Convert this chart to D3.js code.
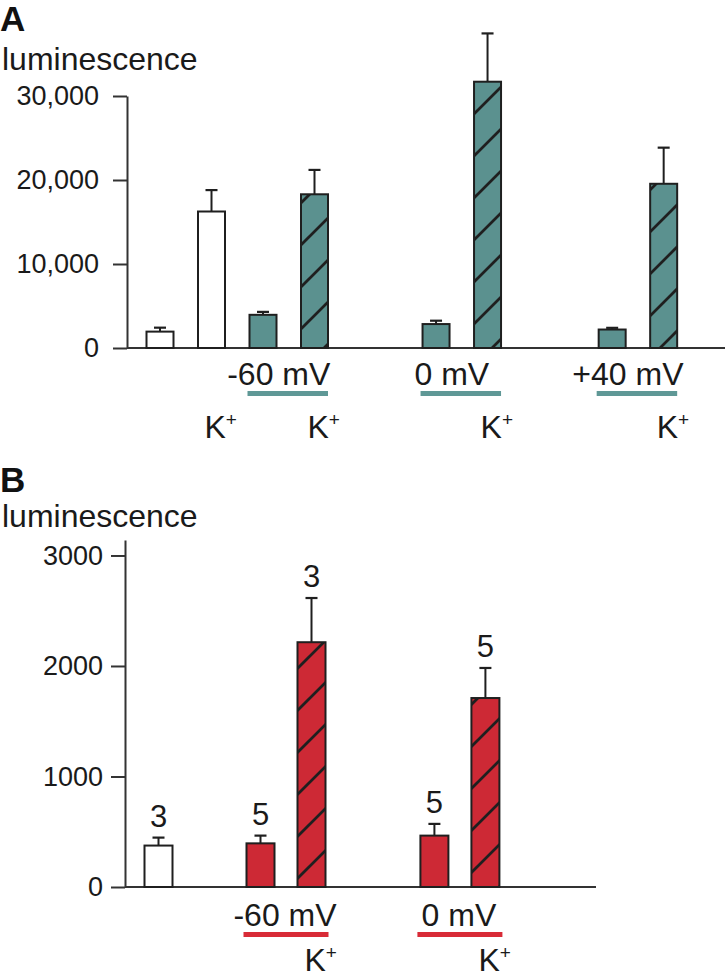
<!DOCTYPE html>
<html><head><meta charset="utf-8">
<script src="https://cdn.jsdelivr.net/npm/d3@7"></script>
<style>
html,body{margin:0;padding:0;background:#fff;}
svg{display:block;}
text{font-family:"Liberation Sans",Arial,Helvetica,sans-serif;fill:#1a1a1a;}
</style></head>
<body>
<svg id="chart" width="725" height="980"></svg>
<script>
// ---------- DATA ----------
// Panel A
const conditionsA = ["control","control","-60 mV","-60 mV","0 mV","0 mV","+40 mV","+40 mV"];
const kPlusA      = [false, true, false, true, false, true, false, true];
const meansA      = [1950, 16250, 3950, 18300, 2850, 31700, 2200, 19550];
const semA        = [470, 2550, 350, 2900, 400, 5750, 200, 4300];
const ticksA      = [0, 10000, 20000, 30000];
const groupsA     = ["-60 mV","0 mV","+40 mV"];
// Panel B
const conditionsB = ["control","-60 mV","-60 mV","0 mV","0 mV"];
const kPlusB      = [false, false, true, false, true];
const meansB      = [375, 395, 2215, 465, 1710];
const semB        = [72, 70, 400, 106, 272];
const nB          = [3, 5, 3, 5, 5];
const ticksB      = [0, 1000, 2000, 3000];
const groupsB     = ["-60 mV","0 mV"];
const yLabel = "luminescence";

// ---------- LAYOUT ----------
const slotsA = [0,1,2,3,5.36,6.36,8.78,9.78];
const slotsB = [0,2,3,5.41,6.41];
const teal = "#5b918f", tealLine = "#5f9896";
const red = "#cd2935", redLine = "#d82b37";
const ink = "#1f1f1f";
const font = '"Liberation Sans",Arial,Helvetica,sans-serif';

const svg = d3.select("#chart");
const defs = svg.append("defs");
const pat = defs.append("pattern").attr("id","hatch")
  .attr("patternUnits","userSpaceOnUse").attr("width",42).attr("height",42);
pat.append("path").attr("d","M-10.5,10.5L10.5,-10.5M0,42L42,0M31.5,52.5L52.5,31.5")
  .attr("stroke",ink).attr("stroke-width",2.8).attr("fill","none");

function panel(cfg){
  const g = svg.append("g");
  const x = d3.scaleLinear().domain([0,1]).range(cfg.xr);
  const y = d3.scaleLinear().domain(cfg.yd).range(cfg.yr);
  const bw = cfg.bw;

  g.append("text").attr("x",0).attr("y",cfg.letterY).attr("font-size",35)
    .attr("font-weight","bold").style("fill","#111").text(cfg.letter);
  g.append("text").attr("x",2).attr("y",cfg.labelY).attr("font-size",32).text(yLabel);

  const ax = g.append("g").attr("transform",`translate(${cfg.axisX},0)`)
    .call(d3.axisLeft(y).tickValues(cfg.ticks).tickSize(cfg.tickLen).tickSizeOuter(0)
      .tickPadding(cfg.tickPad).tickFormat(cfg.fmt));
  ax.selectAll("path,line").attr("stroke","#333").attr("stroke-width",2);
  ax.selectAll("text").attr("font-size",27).attr("font-family",font).style("fill","#1a1a1a");

  g.append("line").attr("x1",cfg.axisX).attr("x2",cfg.baseEnd)
    .attr("y1",y(0)).attr("y2",y(0)).attr("stroke","#333").attr("stroke-width",2);

  const data = cfg.means.map((m,i)=>({m, e:cfg.sem[i], c:cfg.cond[i], k:cfg.k[i], s:cfg.slots[i], n:cfg.n?cfg.n[i]:null}));

  data.forEach(d=>{
    const cx = x(d.s);
    g.append("line").attr("x1",cx).attr("x2",cx).attr("y1",y(d.m)).attr("y2",y(d.m+d.e))
      .attr("stroke",ink).attr("stroke-width",2);
    g.append("line").attr("x1",cx-6).attr("x2",cx+6).attr("y1",y(d.m+d.e)).attr("y2",y(d.m+d.e))
      .attr("stroke",ink).attr("stroke-width",2.2);
  });

  data.forEach(d=>{
    const cx = x(d.s);
    const isCtrl = d.c === "control";
    g.append("rect").attr("x",cx-bw/2).attr("width",bw)
      .attr("y",y(d.m)).attr("height",y(0)-y(d.m))
      .attr("fill", isCtrl ? "#fff" : cfg.color);
    if(!isCtrl && d.k){
      g.append("rect").attr("x",cx-bw/2).attr("width",bw)
        .attr("y",y(d.m)).attr("height",y(0)-y(d.m)).attr("fill","url(#hatch)");
    }
    g.append("rect").attr("x",cx-bw/2).attr("width",bw)
      .attr("y",y(d.m)).attr("height",y(0)-y(d.m))
      .attr("fill","none").attr("stroke",ink).attr("stroke-width",2);
    if(d.n!==null){
      g.append("text").attr("x",cx).attr("y",y(d.m+d.e)-11).attr("text-anchor","middle")
        .attr("font-size",31).text(d.n);
    }
    if(d.k){
      const t = g.append("text").attr("x",cx-7).attr("y",cfg.kY).attr("font-size",32);
      t.append("tspan").text("K");
      t.append("tspan").attr("font-size",19).attr("dy",-12).text("+");
    }
  });

  cfg.groups.forEach(gr=>{
    const idx = data.map((d,i)=>d.c===gr?i:-1).filter(i=>i>=0);
    const x0 = x(data[idx[0]].s)-bw/2 + cfg.ulPad[0];
    const x1 = x(data[idx[idx.length-1]].s)+bw/2 + cfg.ulPad[1];
    g.append("text").attr("x",(x0+x1)/2 + cfg.lblShift).attr("y",cfg.grpY)
      .attr("text-anchor","middle").attr("font-size",32).text(gr);
    g.append("rect").attr("x",x0).attr("width",x1-x0).attr("y",cfg.ulY).attr("height",5)
      .attr("fill",cfg.ulColor);
  });
}

panel({
  letter:"A", letterY:31, labelY:70,
  xr:[160,211.5], yd:[0,30000], yr:[348,96], bw:27,
  axisX:127, tickLen:14, tickPad:14, ticks:ticksA, fmt:d3.format(","),
  baseEnd:725, means:meansA, sem:semA, cond:conditionsA, k:kPlusA, slots:slotsA,
  color:teal, ulColor:tealLine, groups:groupsA, grpY:385, ulY:391, kY:438,
  ulPad:[-2,0], lblShift:-9
});
panel({
  letter:"B", letterY:492, labelY:527,
  xr:[158.5,209.5], yd:[0,3140], yr:[887,540], bw:28,
  axisX:125, tickLen:14, tickPad:8, ticks:ticksB, fmt:d3.format("d"),
  baseEnd:596, means:meansB, sem:semB, n:nB, cond:conditionsB, k:kPlusB, slots:slotsB,
  color:red, ulColor:redLine, groups:groupsB, grpY:926, ulY:932, kY:971,
  ulPad:[-3,3], lblShift:-1
});
</script>
</body></html>
